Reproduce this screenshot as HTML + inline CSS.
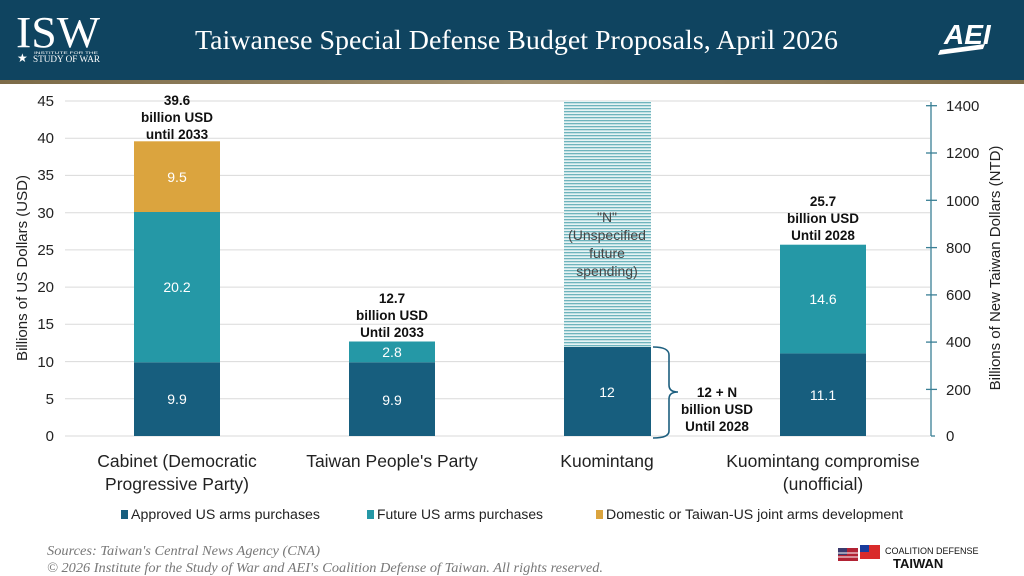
<!DOCTYPE html>
<html><head><meta charset="utf-8"><style>
html,body{margin:0;padding:0;background:#fff;}
svg{display:block;font-family:"Liberation Sans",sans-serif;}
</style></head><body>
<svg width="1024" height="576" viewBox="0 0 1024 576" xmlns="http://www.w3.org/2000/svg">
<defs>
<pattern id="h" width="8" height="3" patternUnits="userSpaceOnUse">
<rect width="8" height="3" fill="#e6f3f4"/>
<rect y="0" width="8" height="1.3" fill="#6fb4bd"/>
</pattern>
<linearGradient id="st" x1="0" x2="1"><stop offset="0" stop-color="#7d6b48"/><stop offset="0.5" stop-color="#a09070"/><stop offset="1" stop-color="#7d6b48"/></linearGradient>
</defs>
<rect width="1024" height="80" fill="#0f4460"/>
<rect y="80" width="1024" height="4" fill="url(#st)"/>
<!-- ISW logo -->
<text x="16" y="47" font-family="Liberation Serif,serif" font-size="44" fill="#fff" textLength="84" lengthAdjust="spacingAndGlyphs">ISW</text>
<text x="34" y="54" font-family="Liberation Sans" font-size="3.5" fill="#fff" textLength="64" lengthAdjust="spacingAndGlyphs">INSTITUTE FOR THE</text>
<text x="17" y="62" font-family="Liberation Serif" font-size="12" fill="#fff">★</text>
<text x="33" y="62" font-family="Liberation Serif" font-size="9" fill="#fff" textLength="67" lengthAdjust="spacingAndGlyphs">STUDY OF WAR</text>
<text x="195" y="49" font-family="Liberation Serif,serif" font-size="27" fill="#fff" textLength="643" lengthAdjust="spacingAndGlyphs">Taiwanese Special Defense Budget Proposals, April 2026</text>
<!-- AEI logo -->
<text x="944" y="44" font-family="Liberation Sans" font-weight="bold" font-style="italic" font-size="28" fill="#fff">AEI</text>
<polygon points="940,50 985,44 983,49 938,55" fill="#fff"/>
<!-- gridlines -->
<g stroke="#dadada" stroke-width="1">
<line x1="65" x2="930" y1="101" y2="101"/><line x1="65" x2="930" y1="138.2" y2="138.2"/>
<line x1="65" x2="930" y1="175.4" y2="175.4"/><line x1="65" x2="930" y1="212.7" y2="212.7"/>
<line x1="65" x2="930" y1="249.9" y2="249.9"/><line x1="65" x2="930" y1="287.1" y2="287.1"/>
<line x1="65" x2="930" y1="324.3" y2="324.3"/><line x1="65" x2="930" y1="361.6" y2="361.6"/>
<line x1="65" x2="930" y1="398.8" y2="398.8"/><line x1="65" x2="930" y1="436" y2="436"/>
</g>
<g font-size="15" fill="#222" text-anchor="end">
<text x="54" y="106">45</text><text x="54" y="143">40</text><text x="54" y="180">35</text>
<text x="54" y="218">30</text><text x="54" y="255">25</text><text x="54" y="292">20</text>
<text x="54" y="329">15</text><text x="54" y="367">10</text><text x="54" y="404">5</text><text x="54" y="441">0</text>
</g>
<text transform="translate(27,268) rotate(-90)" text-anchor="middle" font-size="15" fill="#222">Billions of US Dollars (USD)</text>
<!-- right axis -->
<g stroke="#3a7f95" stroke-width="1.3">
<line x1="931" x2="931" y1="102" y2="436"/>
<line x1="931" x2="935" y1="436" y2="436"/>
<line x1="926" x2="937" y1="105.7" y2="105.7"/><line x1="926" x2="937" y1="153" y2="153"/>
<line x1="926" x2="937" y1="200.3" y2="200.3"/><line x1="926" x2="937" y1="247.6" y2="247.6"/>
<line x1="926" x2="937" y1="294.9" y2="294.9"/><line x1="926" x2="937" y1="342.1" y2="342.1"/>
<line x1="926" x2="937" y1="389.4" y2="389.4"/>
</g>
<g font-size="15" fill="#222">
<text x="946" y="111">1400</text><text x="946" y="158">1200</text><text x="946" y="206">1000</text>
<text x="946" y="253">800</text><text x="946" y="300">600</text><text x="946" y="347">400</text>
<text x="946" y="395">200</text><text x="946" y="441">0</text>
</g>
<text transform="translate(1000,268) rotate(-90)" text-anchor="middle" font-size="15" fill="#222">Billions of New Taiwan Dollars (NTD)</text>
<!-- bars -->
<rect x="134" y="362.3" width="86" height="73.7" fill="#175e7e"/>
<rect x="134" y="212" width="86" height="150.3" fill="#2598a6"/>
<rect x="134" y="141.3" width="86" height="70.7" fill="#dba43e"/>
<rect x="349" y="362.3" width="86" height="73.7" fill="#175e7e"/>
<rect x="349" y="341.5" width="86" height="20.8" fill="#2598a6"/>
<rect x="564" y="101" width="87" height="246" fill="url(#h)"/>
<rect x="564" y="347" width="87" height="89" fill="#175e7e"/>
<rect x="780" y="353.4" width="86" height="82.6" fill="#175e7e"/>
<rect x="780" y="244.7" width="86" height="108.7" fill="#2598a6"/>
<g font-size="14" fill="#fff" text-anchor="middle">
<text x="177" y="404">9.9</text><text x="177" y="292">20.2</text><text x="177" y="182">9.5</text>
<text x="392" y="405">9.9</text><text x="392" y="357">2.8</text>
<text x="607" y="397">12</text>
<text x="823" y="400">11.1</text><text x="823" y="304">14.6</text>
</g>
<g font-size="14" fill="#444" text-anchor="middle">
<text x="607" y="222">"N"</text><text x="607" y="240">(Unspecified</text><text x="607" y="258">future</text><text x="607" y="276">spending)</text>
</g>
<g font-size="13.5" font-weight="bold" fill="#111" text-anchor="middle">
<text x="177" y="105">39.6</text><text x="177" y="122">billion USD</text><text x="177" y="139">until 2033</text>
<text x="392" y="303">12.7</text><text x="392" y="320">billion USD</text><text x="392" y="337">Until 2033</text>
<text x="823" y="206">25.7</text><text x="823" y="223">billion USD</text><text x="823" y="240">Until 2028</text>
<text x="717" y="397">12 + N</text><text x="717" y="414">billion USD</text><text x="717" y="431">Until 2028</text>
</g>
<path d="M653,347 Q669,347 669,355 L669,385 Q669,392 678,392 Q669,392 669,399 L669,431 Q669,438 653,438" fill="none" stroke="#1d5f7f" stroke-width="1.6"/>
<!-- category labels -->
<g font-size="17.5" fill="#222" text-anchor="middle">
<text x="177" y="467">Cabinet (Democratic</text><text x="177" y="490">Progressive Party)</text>
<text x="392" y="467">Taiwan People's Party</text>
<text x="607" y="467">Kuomintang</text>
<text x="823" y="467">Kuomintang compromise</text><text x="823" y="490">(unofficial)</text>
</g>
<!-- legend -->
<rect x="121" y="510" width="7" height="9" fill="#175e7e"/>
<text x="131" y="519" font-size="13.5" fill="#222" textLength="189" lengthAdjust="spacingAndGlyphs">Approved US arms purchases</text>
<rect x="367" y="510" width="7" height="9" fill="#2598a6"/>
<text x="377" y="519" font-size="13.5" fill="#222" textLength="166" lengthAdjust="spacingAndGlyphs">Future US arms purchases</text>
<rect x="596" y="510" width="7" height="9" fill="#dba43e"/>
<text x="606" y="519" font-size="13.5" fill="#222" textLength="297" lengthAdjust="spacingAndGlyphs">Domestic or Taiwan-US joint arms development</text>
<!-- footer -->
<g font-family="Liberation Serif,serif" font-style="italic" font-size="13.5" fill="#777">
<text x="47" y="555" textLength="273" lengthAdjust="spacingAndGlyphs">Sources: Taiwan's Central News Agency (CNA)</text>
<text x="47" y="572" textLength="556" lengthAdjust="spacingAndGlyphs">© 2026 Institute for the Study of War and AEI's Coalition Defense of Taiwan. All rights reserved.</text>
</g>
<g>
<rect x="838" y="548" width="20" height="13" fill="#b22234"/>
<rect x="838" y="548" width="9" height="7" fill="#3c3b6e"/>
<line x1="838" y1="553" x2="858" y2="553" stroke="#fff" stroke-width="1"/>
<line x1="838" y1="557" x2="858" y2="557" stroke="#fff" stroke-width="1"/>
<rect x="860" y="545" width="20" height="14" fill="#d92b2b"/>
<rect x="860" y="545" width="9" height="7" fill="#1a3c9c"/>
<text x="885" y="554" font-size="9" fill="#111">COALITION DEFENSE</text>
<text x="893" y="568" font-size="13" font-weight="bold" fill="#111">TAIWAN</text>
</g>
</svg>
</body></html>
